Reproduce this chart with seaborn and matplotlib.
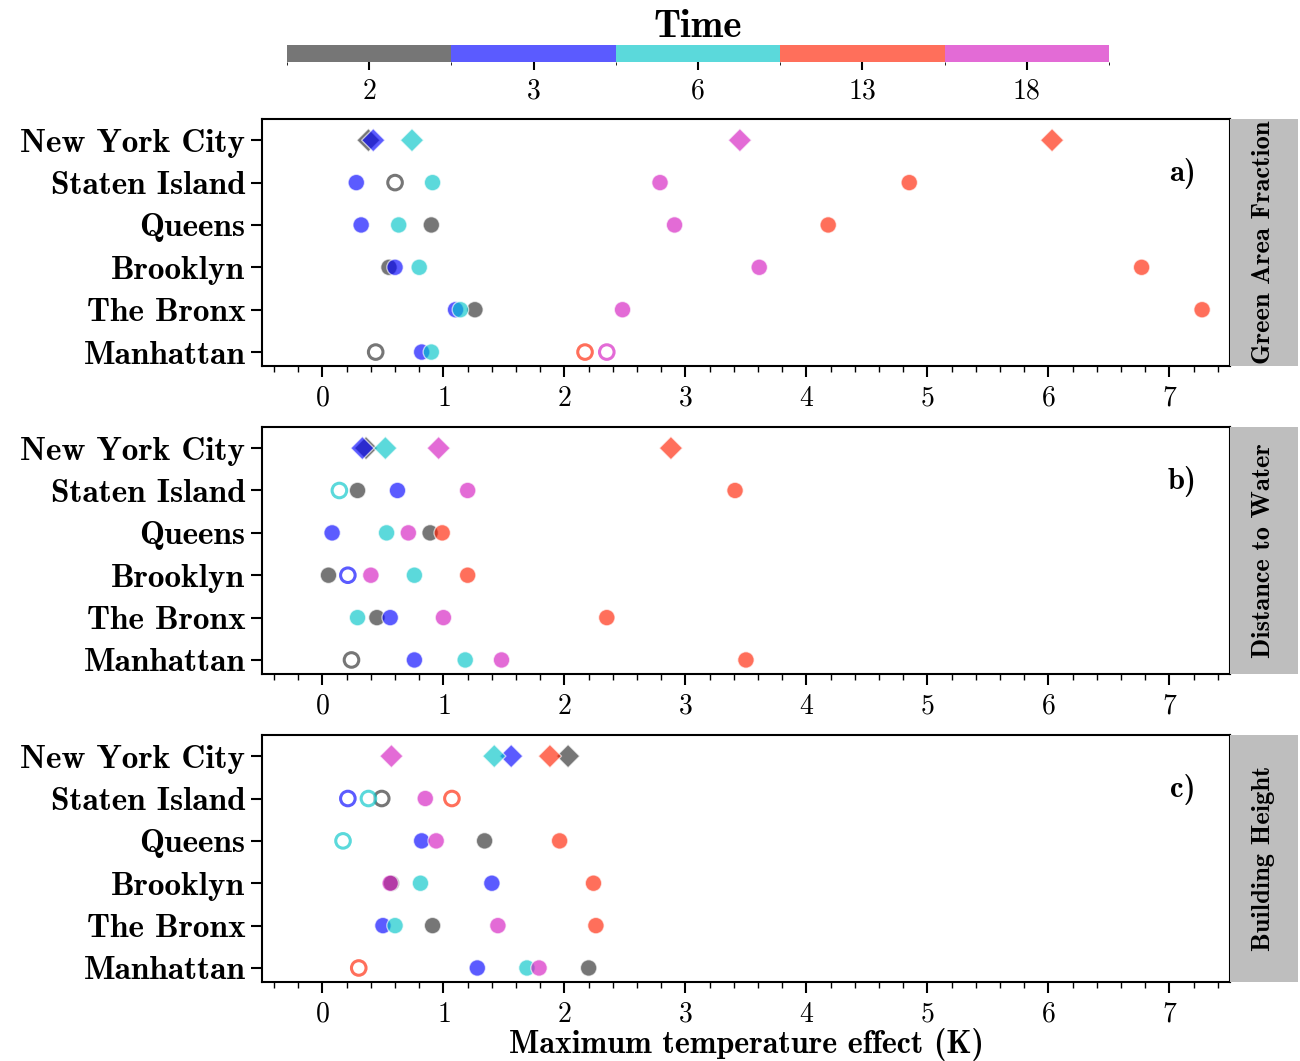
import numpy as np
import pandas as pd
import seaborn as sns
import matplotlib as mpl
import matplotlib.pyplot as plt
from matplotlib.colors import ListedColormap, BoundaryNorm

# categories
cities = ["New York City", "Staten Island", "Queens", "Brooklyn", "The Bronx", "Manhattan"]
times = [2, 3, 6, 13, 18]
time_colors = ["#2d2d2d", "#0303ff", "#03c5c8", "#ff2203", "#d41cc0"]
bar_colors = ["#767676", "#5b5bff", "#5bd9db", "#ff6f5b", "#e36bd6"]

# a) green area fraction, one list per time (city order as above)
green_t2 = [0.38, 0.60, 0.90, 0.55, 1.26, 0.44]
green_t3 = [0.42, 0.28, 0.32, 0.60, 1.10, 0.82]
green_t6 = [0.74, 0.91, 0.63, 0.80, 1.14, 0.90]
green_t13 = [6.03, 4.85, 4.18, 6.77, 7.27, 2.17]
green_t18 = [3.45, 2.79, 2.91, 3.61, 2.48, 2.35]
green_open = [(2, "Staten Island"), (2, "Manhattan"), (13, "Manhattan"), (18, "Manhattan")]

# b) distance to water
water_t2 = [0.36, 0.29, 0.89, 0.05, 0.45, 0.24]
water_t3 = [0.33, 0.62, 0.08, 0.21, 0.56, 0.76]
water_t6 = [0.52, 0.14, 0.53, 0.76, 0.29, 1.18]
water_t13 = [2.88, 3.41, 0.99, 1.20, 2.35, 3.50]
water_t18 = [0.96, 1.20, 0.71, 0.40, 1.00, 1.48]
water_open = [(2, "Manhattan"), (3, "Brooklyn"), (6, "Staten Island")]

# c) building height
height_t2 = [2.03, 0.49, 1.34, 0.57, 0.91, 2.20]
height_t3 = [1.56, 0.21, 0.82, 1.40, 0.50, 1.28]
height_t6 = [1.42, 0.38, 0.17, 0.81, 0.60, 1.69]
height_t13 = [1.88, 1.07, 1.96, 2.24, 2.26, 0.30]
height_t18 = [0.57, 0.85, 0.94, 0.56, 1.45, 1.79]
height_open = [(2, "Staten Island"), (3, "Staten Island"), (6, "Staten Island"),
               (6, "Queens"), (13, "Staten Island"), (13, "Manhattan")]

panels = [
    ("Green Area Fraction", "a)", [green_t2, green_t3, green_t6, green_t13, green_t18], green_open),
    ("Distance to Water", "b)", [water_t2, water_t3, water_t6, water_t13, water_t18], water_open),
    ("Building Height", "c)", [height_t2, height_t3, height_t6, height_t13, height_t18], height_open),
]

sns.set_style("ticks")
plt.rcParams["font.family"] = ["cmr10"]
plt.rcParams["axes.formatter.use_mathtext"] = True
for key in ["text.color", "axes.labelcolor", "xtick.color", "ytick.color", "axes.edgecolor"]:
    plt.rcParams[key] = "black"
BOLD = "cmb10"

palette = dict(zip(times, time_colors))
fig = plt.figure(figsize=(13, 10.61), dpi=100)

bottoms = [0.655, 0.3648, 0.0745]
for (strip, tag, series, opened), bottom in zip(panels, bottoms):
    ax = fig.add_axes([0.2015, bottom, 0.7446, 0.2328])
    rows = []
    for t, vals in zip(times, series):
        for i, (c, v) in enumerate(zip(cities, vals)):
            rows.append({"effect": v, "pos": i, "time": t,
                         "shape": "city" if i == 0 else "borough",
                         "open": (t, c) in opened})
    df = pd.DataFrame(rows)

    sns.scatterplot(data=df[~df["open"]], x="effect", y="pos", hue="time",
                    palette=palette, style="shape",
                    markers={"city": "D", "borough": "o"}, s=140, alpha=0.65,
                    legend=False, ax=ax)
    if df["open"].any():
        sns.scatterplot(data=df[df["open"]], x="effect", y="pos", hue="time",
                        palette=palette, marker="o", s=110, alpha=0.65,
                        legend=False, ax=ax)
        pts = ax.collections[-1]
        fc = pts.get_facecolors()
        pts.set_edgecolors(fc)
        pts.set_facecolors("white")
        pts.set_linewidths(2.2)

    ax.set_xlim(-0.5, 7.5)
    ax.set_ylim(5.33, -0.5)
    ax.set_yticks(range(len(cities)))
    ax.set_yticklabels(cities, fontfamily=BOLD, fontsize=24)
    ax.set_xticks(range(8))
    ax.set_xticks(np.arange(-0.4, 7.5, 0.2), minor=True)
    ax.tick_params(axis="x", labelsize=20, length=8, width=1.5, pad=6)
    ax.tick_params(axis="x", which="minor", length=4, width=1)
    ax.tick_params(axis="y", length=8, width=1.5, pad=4)
    ax.set_xlabel("")
    ax.set_ylabel("")
    for sp in ax.spines.values():
        sp.set_linewidth(1.5)
    ax.text(0.951, 0.78, tag, transform=ax.transAxes, fontsize=22,
            fontfamily=BOLD, ha="center", va="center")

    # facet strip on the right
    sax = fig.add_axes([0.9461, bottom, 0.0523, 0.2328])
    sax.set_facecolor("#bebebe")
    sax.set_xticks([])
    sax.set_yticks([])
    for sp in sax.spines.values():
        sp.set_visible(False)
    sax.text(0.5, 0.5, strip, rotation=90, ha="center", va="center",
             fontfamily=BOLD, fontsize=19, transform=sax.transAxes)

    if tag == "c)":
        ax.set_xlabel("Maximum temperature effect (K)", fontfamily=BOLD,
                      fontsize=23, labelpad=0)

# time colour bar
cax = fig.add_axes([0.2208, 0.9416, 0.6323, 0.016])
cb = mpl.colorbar.ColorbarBase(cax, cmap=ListedColormap(bar_colors),
                               norm=BoundaryNorm(range(len(times) + 1), len(times)),
                               orientation="horizontal",
                               ticks=np.arange(len(times)) + 0.5)
cb.set_ticklabels([str(t) for t in times])
cb.outline.set_visible(False)
cax.tick_params(labelsize=20, length=6, width=1.5, pad=6)
cax.set_title("Time", fontfamily=BOLD, fontsize=28, pad=2)

fig.savefig("out.png", dpi=100)
